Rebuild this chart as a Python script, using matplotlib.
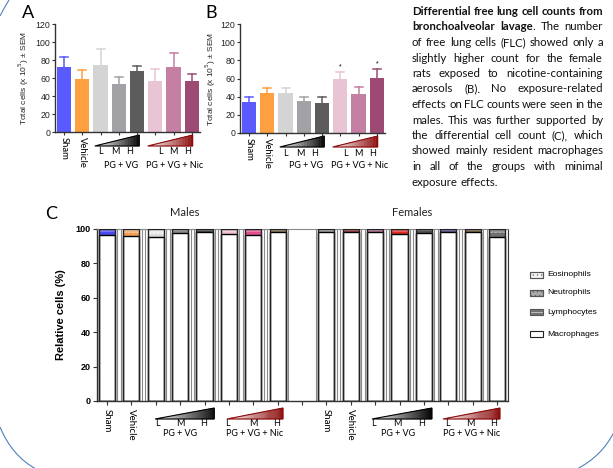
import numpy as np
import matplotlib
matplotlib.use('Agg')
import matplotlib.pyplot as plt
from matplotlib.patches import Polygon, Rectangle
from matplotlib.path import Path
from matplotlib.patches import PathPatch
import matplotlib.transforms as mtrans
from matplotlib.colors import to_rgb

plt.rcParams['hatch.linewidth'] = 0.5

W, H = 613, 468
fig = plt.figure(figsize=(W / 100, H / 100), dpi=100)

# ---------------- data ----------------
groups = ['Sham', 'Vehicle', 'PG+VG L', 'PG+VG M', 'PG+VG H',
          'PG+VG+Nic L', 'PG+VG+Nic M', 'PG+VG+Nic H']
male_total = [72, 59, 75, 53, 68, 57, 72, 57]
male_sem = [11, 10, 17, 8, 5, 13, 16, 7]
female_total = [34, 44, 44, 35, 33, 59, 43, 61]
female_sem = [6, 6, 6, 5, 7, 8, 8, 9]
female_sig = [False, False, False, False, False, True, False, True]

bar_colors = ['#5a5aff', '#ffa040', '#d4d4d4', '#a2a2a6', '#5c5c5c',
              '#e8c4d4', '#c47fa2', '#9c4a74']

male_macro = [96.3, 96.0, 95.2, 97.5, 98.0, 97.0, 96.5, 98.0]
male_lymph = [2.0, 1.8, 1.6, 1.2, 1.0, 1.4, 1.8, 1.0]
male_neut = [1.0, 1.2, 0.7, 0.8, 0.6, 0.8, 1.0, 0.6]
male_eos = [0.7, 1.0, 2.5, 0.5, 0.4, 0.8, 0.7, 0.4]

female_macro = [98.0, 98.5, 98.0, 97.0, 97.8, 98.5, 98.5, 95.5]
female_lymph = [0.8, 0.6, 0.8, 1.2, 1.0, 0.6, 0.6, 2.0]
female_neut = [0.6, 0.5, 0.7, 1.0, 0.8, 0.5, 0.5, 1.8]
female_eos = [0.6, 0.4, 0.5, 0.8, 0.4, 0.4, 0.4, 0.7]

c_male_colors = ['#4a4af0', '#f0a050', '#d8d8d8', '#8c8c8c', '#4c4c4c',
                 '#f0c0d0', '#e0508f', '#8a7a5a']
c_female_colors = ['#a0a0a0', '#a03848', '#b07090', '#e02828', '#505050',
                   '#5a5a9a', '#806848', '#707070']

cell_types = ['Eosinophils', 'Neutrophils', 'Lymphocytes', 'Macrophages']

dose_labels = ['L', 'M', 'H']
PG_DARK = '#000000'
NIC_DARK = '#8b0a0a'

TXT = ['Lato', 'DejaVu Sans']
NUM = ['Liberation Sans', 'DejaVu Sans']

# ---------------- overlay (pixel coords) ----------------
ov = fig.add_axes([0, 0, 1, 1], zorder=-5)
ov.set_xlim(0, W)
ov.set_ylim(H, 0)
ov.axis('off')

# slide decoration arcs
arc_col = '#4f81bd'
for verts in ([(0, 16), (4, 8), (9, 0)],
              [(0, 427), (12, 456), (36, 469)],
              [(577, 469), (602, 456), (614, 432)]):
    p = Path(verts, [Path.MOVETO, Path.CURVE3, Path.CURVE3])
    ov.add_patch(PathPatch(p, fc='none', ec=arc_col, lw=0.8))


def gradient_triangle(ax, x0, x1, ytop, ybot, dark, nstrip=60):
    tr = mtrans.blended_transform_factory(ax.transData, ax.transAxes)
    dr = np.array(to_rgb(dark))
    xs = np.linspace(x0, x1, nstrip + 1)
    for i in range(nstrip):
        xa, xb = xs[i], xs[i + 1]
        fa = (xa - x0) / (x1 - x0)
        fb = (xb - x0) / (x1 - x0)
        f = (fa + fb) / 2
        col = (1 - f) * np.ones(3) + f * dr
        ya = ybot + fa * (ytop - ybot)
        yb = ybot + fb * (ytop - ybot)
        ax.add_patch(Polygon([(xa, ybot), (xb, ybot), (xb, yb), (xa, ya)],
                             closed=True, transform=tr, clip_on=False,
                             fc=col, ec=col, lw=0.3))
    ax.add_patch(Polygon([(x0, ybot), (x1, ybot), (x1, ytop)], closed=True,
                         transform=tr, clip_on=False, fc='none', ec=dark, lw=0.8))


def group_labels(ax, tri, lab_y, name_y, sham_y, fs, fs_names, lab_x, name_x):
    tr = mtrans.blended_transform_factory(ax.transData, ax.transAxes)
    ax.text(0, sham_y, 'Sham', rotation=-90, ha='center', va='top',
            transform=tr, fontsize=fs_names, family=TXT)
    ax.text(1, sham_y, 'Vehicle', rotation=-90, ha='center', va='top',
            transform=tr, fontsize=fs_names, family=TXT)
    for (x0, x1, ytop, ybot, dark) in tri:
        gradient_triangle(ax, x0, x1, ytop, ybot, dark)
    for xs in lab_x:
        for xl, lab in zip(xs, dose_labels):
            ax.text(xl, lab_y, lab, ha='center', va='center', transform=tr,
                    fontsize=fs, family=TXT)
    for xn, nm in zip(name_x, ['PG + VG', 'PG + VG + Nic']):
        ax.text(xn, name_y, nm, ha='center', va='center', transform=tr,
                fontsize=fs, family=TXT)


def total_panel(rect, values, sems, title, title_xy, ylab_x, sig=None):
    l, t, r, b = rect
    ax = fig.add_axes([l / W, 1 - b / H, (r - l) / W, (b - t) / H])
    x = np.arange(len(values))
    ax.bar(x, values, width=0.78, color=bar_colors, linewidth=0, zorder=2)
    for xi, v, s, c in zip(x, values, sems, bar_colors):
        ax.plot([xi, xi], [v, v + s], color=c, lw=1.1, zorder=1)
        ax.plot([xi - 0.22, xi + 0.22], [v + s, v + s], color=c, lw=1.1, zorder=1)
        if sig is not None and sig[xi]:
            ax.text(xi, v + s + 6, '*', ha='center', va='center', fontsize=5,
                    family=NUM)
    ax.set_xlim(-0.5, 7.45)
    ax.set_ylim(0, 120)
    ax.set_yticks(np.arange(0, 121, 20))
    ax.set_xticks(x)
    ax.set_xticklabels([])
    ax.tick_params(axis='x', length=2, width=0.8, color='#333333')
    ax.tick_params(axis='y', length=2.5, width=0.8, labelsize=6.3, pad=1,
                   color='#333333', labelcolor='#222222')
    for lab in ax.get_yticklabels():
        lab.set_family(NUM)
    for s in ['top', 'right']:
        ax.spines[s].set_visible(False)
    for s in ['left', 'bottom']:
        ax.spines[s].set_linewidth(1.0)
        ax.spines[s].set_color('#333333')
    ax.set_ylabel('Total cells (x 10$^5$) ± SEM', fontsize=6.0, family=NUM,
                  color='#222222')
    ax.yaxis.set_label_coords(-(l - ylab_x) / (r - l), 0.5)
    ov.text(title_xy[0], title_xy[1], title, ha='center', va='center',
            fontsize=7.8, family=TXT, color='#222222')
    hh = b - t
    group_labels(ax,
                 [(1.68, 4.12, -3 / hh, -14 / hh, PG_DARK),
                  (4.58, 7.05, -3 / hh, -14 / hh, NIC_DARK)],
                 -20 / hh, -33 / hh, -5 / hh, 6.5, 6.8,
                 [[1.97, 2.79, 3.6], [5.3, 6.0, 6.78]], [3.1, 6.07])
    return ax


axA = total_panel((55, 24, 200, 132), male_total, male_sem, 'Males', (117, 32), 31)
axB = total_panel((240, 24, 385, 133), female_total, female_sem, 'Females', (311, 32),
                  218, sig=female_sig)

ov.text(22, 18, 'A', fontsize=13, family=TXT, va='baseline')
ov.text(205, 18, 'B', fontsize=13, family=TXT, va='baseline')
ov.text(45, 219, 'C', fontsize=13, family=TXT, va='baseline')

# ---------------- panel C ----------------
l, t, r, b = 97, 229, 508, 401
axC = fig.add_axes([l / W, 1 - b / H, (r - l) / W, (b - t) / H])
pos_m = np.arange(8)
pos_f = np.arange(9, 17)
bw = 0.66


def lighten(c, f):
    c = np.array(to_rgb(c))
    return tuple(c + (1 - c) * f)


for pos, mac, lym, neu, eos, cols in [
        (pos_m, male_macro, male_lymph, male_neut, male_eos, c_male_colors),
        (pos_f, female_macro, female_lymph, female_neut, female_eos, c_female_colors)]:
    axC.bar(pos, [100] * len(pos), width=0.86, fc='white', ec='#8a8a8a', lw=0.8, zorder=1)
    mac = np.array(mac)
    lym = np.array(lym)
    neu = np.array(neu)
    eos = np.array(eos)
    axC.bar(pos, mac, width=bw, fc='white', ec='none', zorder=2)
    axC.bar(pos, lym, bottom=mac, width=bw, color=cols, ec='white',
            hatch='--', lw=0, zorder=2)
    axC.bar(pos, neu, bottom=mac + lym, width=bw,
            color=[lighten(c, 0.25) for c in cols], ec='white', hatch='....', lw=0, zorder=2)
    axC.bar(pos, eos, bottom=mac + lym + neu, width=bw,
            color=[lighten(c, 0.55) for c in cols], ec='white', hatch='....', lw=0, zorder=2)
    axC.bar(pos, mac, width=bw, fc='none', ec='black', lw=1.0, zorder=3)
    axC.bar(pos, mac + lym + neu + eos, width=bw, fc='none', ec='#222222', lw=1.0, zorder=3)

axC.set_xlim(-0.41, 16.45)
axC.set_ylim(0, 100)
axC.set_xticks(np.arange(17))
axC.set_xticklabels([])
axC.set_yticks(np.arange(0, 101, 20))
axC.tick_params(axis='x', length=3, width=0.8, color='#333333')
axC.tick_params(axis='y', length=3, width=0.8, labelsize=6.5, pad=1.5, color='#333333')
for lab in axC.get_yticklabels():
    lab.set_family(NUM)
    lab.set_fontweight('bold')
axC.spines['top'].set_color('#8a8a8a')
axC.spines['right'].set_color('#333333')
for s in ['left', 'bottom']:
    axC.spines[s].set_linewidth(1.0)
    axC.spines[s].set_color('#333333')
axC.set_ylabel('Relative cells (%)', fontsize=8, family=NUM, fontweight='bold')
axC.yaxis.set_label_coords(-(97 - 66) / (r - l), 0.5)

hh = b - t
trC = mtrans.blended_transform_factory(axC.transData, axC.transAxes)
for base in (0, 9):
    axC.text(base + 0, -8 / hh, 'Sham', rotation=-90, ha='center', va='top',
             transform=trC, fontsize=7, family=TXT)
    axC.text(base + 1, -8 / hh, 'Vehicle', rotation=-90, ha='center', va='top',
             transform=trC, fontsize=7, family=TXT)

for (x0, x1), dark, labs, name, nx in [
        ((1.97, 4.4), PG_DARK, [2.05, 3.0, 3.95], 'PG + VG', 3.0),
        ((4.92, 7.22), NIC_DARK, [4.96, 6.0, 6.97], 'PG + VG + Nic', 6.07),
        ((10.87, 13.33), PG_DARK, [10.95, 11.9, 12.9], 'PG + VG', 11.95),
        ((13.78, 16.12), NIC_DARK, [13.95, 14.9, 15.85], 'PG + VG + Nic', 14.95)]:
    gradient_triangle(axC, x0, x1, -7 / hh, -18 / hh, dark)
    for xl, lab in zip(labs, dose_labels):
        axC.text(xl, -23 / hh, lab, ha='center', va='center', transform=trC,
                 fontsize=6.5, family=TXT)
    axC.text(nx, -33 / hh, name, ha='center', va='center', transform=trC,
             fontsize=6.5, family=TXT)

ov.text(185, 213, 'Males', ha='center', va='center', fontsize=8, family=TXT, color='#222222')
ov.text(412, 213, 'Females', ha='center', va='center', fontsize=8, family=TXT, color='#222222')

# legend
leg_y = [275, 293, 312, 334]
leg_style = [dict(fc='#f4f4f4', ec='#777777', hatch='....'),
             dict(fc='#a8a8a8', ec='#666666', hatch='....'),
             dict(fc='#707070', ec='#dddddd', hatch='--'),
             dict(fc='white', ec='#222222', hatch=None)]
for y, nm, st in zip(leg_y, cell_types, leg_style):
    ov.add_patch(Rectangle((530, y - 3), 13, 6, lw=0.8, **st))
    if st['hatch'] is not None:
        ov.add_patch(Rectangle((530, y - 3), 13, 6, lw=0.8, fc='none', ec='#555555'))
    ov.text(547, y, nm, ha='left', va='center', fontsize=6.1, family=NUM)

# ---------------- paragraph (justified) ----------------
para = [
    [('Differential', True), ('free', True), ('lung', True), ('cell', True),
     ('counts', True), ('from', True)],
    [('bronchoalveolar', True), ('lavage', True, '.'), ('The', False), ('number', False)],
    'of free lung cells (FLC) showed only a',
    'slightly higher count for the female',
    'rats exposed to nicotine-containing',
    'aerosols (B). No exposure-related',
    'effects on FLC counts were seen in the',
    'males. This was further supported by',
    'the differential cell count (C), which',
    'showed mainly resident macrophages',
    'in all of the groups with minimal',
    'exposure effects.',
]
PX0, PX1 = 412, 603
renderer = fig.canvas.get_renderer()
PFAM = ['Lato', 'DejaVu Sans']

probe = ov.text(0, 0, 'Differential free lung cell counts from', fontsize=10,
                family=PFAM, fontweight='bold')
pw = probe.get_window_extent(renderer).width
probe.remove()
PFS = 10 * (PX1 - PX0) / pw * 0.995


def width_px(tobj):
    return tobj.get_window_extent(renderer).width


for i, line in enumerate(para):
    y = 15 + 15.5 * i
    if isinstance(line, str):
        words = [(w, False) for w in line.split()]
    else:
        words = line
    objs = []
    for w in words:
        if len(w) == 3:
            t1 = ov.text(0, y, w[0], fontsize=PFS, family=PFAM,
                         fontweight='bold', va='baseline', color='#111111')
            t2 = ov.text(0, y, w[2], fontsize=PFS, family=PFAM,
                         fontweight='normal', va='baseline', color='#111111')
            objs.append([t1, t2])
        else:
            t1 = ov.text(0, y, w[0], fontsize=PFS, family=PFAM,
                         fontweight='bold' if w[1] else 'normal', va='baseline',
                         color='#111111')
            objs.append([t1])
    widths = [sum(width_px(o) for o in grp) for grp in objs]
    total = sum(widths)
    last = i == len(para) - 1
    if last or len(objs) == 1:
        gap = PFS * 0.3
    else:
        gap = (PX1 - PX0 - total) / (len(objs) - 1)
    x = PX0
    for grp, wdt in zip(objs, widths):
        xx = x
        for o in grp:
            o.set_x(xx)
            xx += width_px(o)
        x += wdt + gap

fig.savefig('out.png', dpi=100)
